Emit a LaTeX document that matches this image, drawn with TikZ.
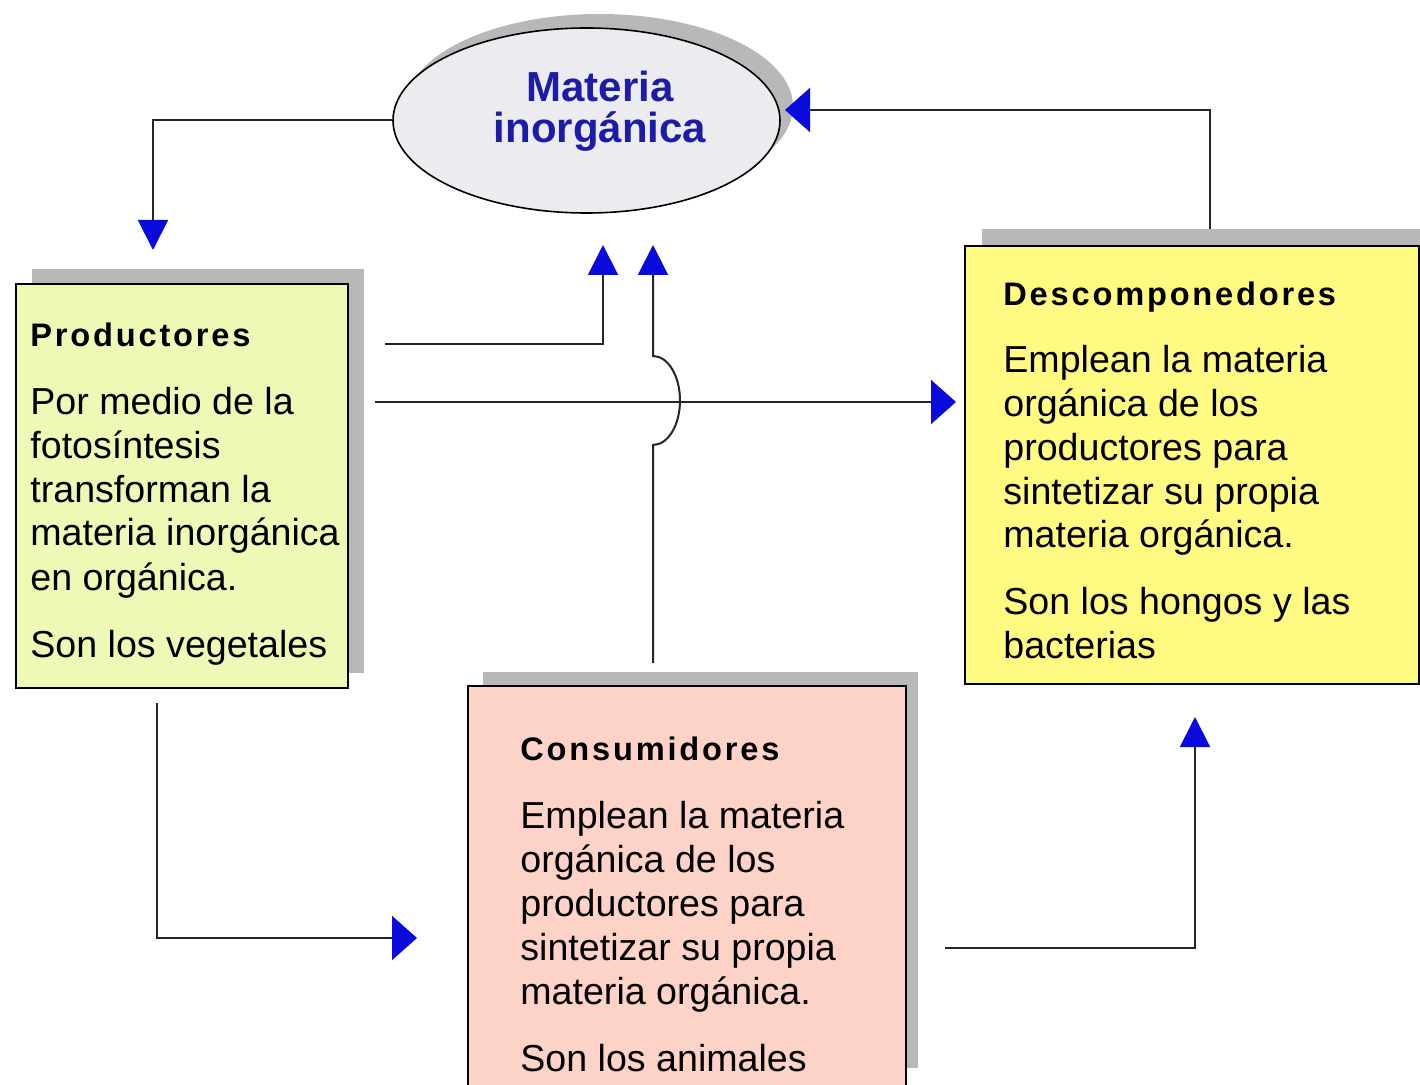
\documentclass[tikz,border=0pt]{standalone}
\usepackage{fontspec}
\setmainfont{Liberation Sans}
\newfontfamily\ttlfont{Liberation Sans}[LetterSpace=8.6]
\usetikzlibrary{arrows.meta,shapes.geometric}
\definecolor{prodfill}{HTML}{EFF9B6}
\definecolor{descfill}{HTML}{FFFB82}
\definecolor{consfill}{HTML}{FDD3C8}
\definecolor{shadowgray}{HTML}{B8B8B8}
\definecolor{ellfill}{HTML}{ECECF0}
\definecolor{arrowblue}{HTML}{0A0ADC}
\definecolor{ellblue}{HTML}{1C1CA8}
\begin{document}
\begin{tikzpicture}[x=0.5pt,y=-0.5pt,
  box/.style={draw=black,line width=1pt,rectangle,inner sep=0pt,anchor=north west},
  shadowbox/.style={fill=shadowgray,draw=none,rectangle,inner sep=0pt,anchor=north west},
  bodytext/.style={anchor=base west,align=left,inner sep=0pt,font=\fontsize{18.8}{22}\selectfont},
  conn/.style={draw=black!85,line width=1pt},
  varrow/.style={-{Triangle[length=15pt,width=15pt,color=arrowblue]}},
  harrow/.style={-{Triangle[length=12.5pt,width=22pt,color=arrowblue]}},
]
\clip (0,0) rectangle (1420,1085);
\fill[white] (0,0) rectangle (1420,1085);

% ellipse
\node[ellipse,fill=shadowgray,draw=none,inner sep=0pt,minimum width=193.5pt,minimum height=92.5pt] (ellsh) at (599.5,106.5) {};
\node[ellipse,fill=ellfill,draw=black,line width=0.8pt,inner sep=0pt,minimum width=193.5pt,minimum height=92.5pt] (ell) at (586.5,120.5) {};
\node[anchor=base,align=center,inner sep=0pt,text=ellblue,font=\bfseries\fontsize{21}{20.5}\selectfont] (elltxt) at (600,143) {Materia\\inorgánica};

% Productores
\node[shadowbox,minimum width=166pt,minimum height=202pt] (prodsh) at (32,269) {};
\node[box,fill=prodfill,minimum width=166pt,minimum height=202pt] (prod) at (15,283) {};
\node[bodytext] (prodtxt) at (30,657) {{\ttlfont\bfseries\fontsize{16.3}{22}\selectfont Productores}\\[12pt]
Por medio de la\\ fotosíntesis\\ transforman la\\ materia inorgánica\\ en orgánica.\\[11.5pt]
Son los vegetales};

% Descomponedores
\node[shadowbox,minimum width=227pt,minimum height=219pt] (descsh) at (982,229) {};
\node[box,fill=descfill,minimum width=227pt,minimum height=219pt] (desc) at (964,245) {};
\node[bodytext] (desctxt) at (1003,659) {{\ttlfont\bfseries\fontsize{16.3}{22}\selectfont Descomponedores}\\[11.5pt]
Emplean la materia\\ orgánica de los\\ productores para\\ sintetizar su propia\\ materia orgánica.\\[11.5pt]
Son los hongos y las\\ bacterias};

% Consumidores
\node[shadowbox,minimum width=217.5pt,minimum height=198pt] (conssh) at (483,672) {};
\node[box,fill=consfill,minimum width=219pt,minimum height=202.5pt] (cons) at (467,685) {};
\node[bodytext] (constxt) at (520,1071) {{\ttlfont\bfseries\fontsize{16.3}{22}\selectfont Consumidores}\\[12pt]
Emplean la materia\\ orgánica de los\\ productores para\\ sintetizar su propia\\ materia orgánica.\\[11.5pt]
Son los animales};

% connectors
\coordinate (t1) at (153,250);
\draw[conn,varrow] (ell.west) -| (t1);

\coordinate (s2) at (385,344);
\coordinate (t2) at (603,245);
\draw[conn,varrow] (s2) -| (t2);

\coordinate (s3) at (375,402);
\coordinate (t3) at (956,402);
\draw[conn,harrow] (s3) -- (t3);

\coordinate (s4) at (653,663);
\coordinate (t4) at (653,245);
\draw[conn,varrow] (s4) -- (653,445) .. controls (668,445) and (680,425) .. (680,400.5) .. controls (680,376) and (668,356) .. (653,356) -- (t4);

\coordinate (s5) at (1210,229);
\coordinate (t5) at (785,110);
\draw[conn,harrow] (s5) |- (t5);

\coordinate (s6) at (157,703);
\coordinate (t6) at (417,938);
\draw[conn,harrow] (s6) |- (t6);

\coordinate (s7) at (945,948);
\coordinate (t7) at (1195,717);
\draw[conn,varrow] (s7) -| (t7);
\end{tikzpicture}
\end{document}
